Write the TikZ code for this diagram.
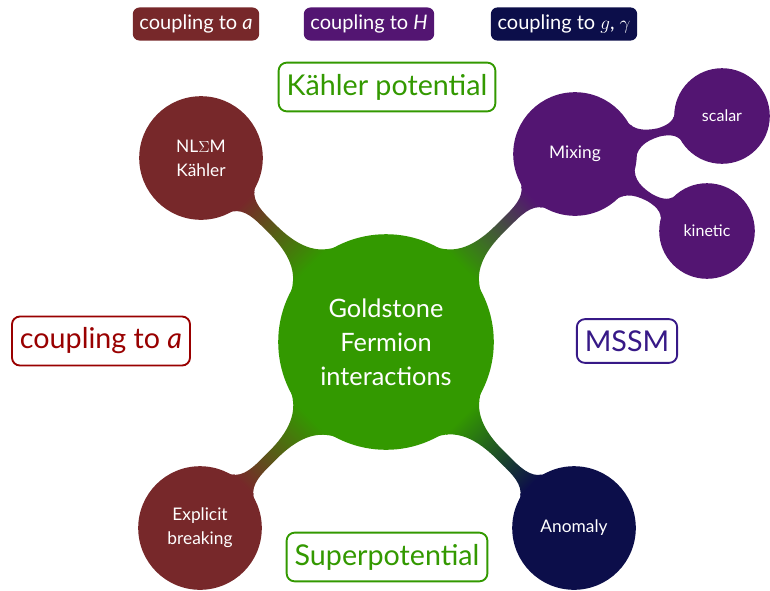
\documentclass[tikz,border=0pt]{standalone}
\usepackage{fontspec}
\setmainfont{Lato}
\usetikzlibrary{mindmap}
\definecolor{gC}{RGB}{51,153,0}
\definecolor{rC}{RGB}{119,40,42}
\definecolor{pC}{RGB}{83,21,114}
\definecolor{nC}{RGB}{12,14,74}
\definecolor{lblR}{RGB}{153,0,0}
\definecolor{lblP}{RGB}{55,25,135}
\begin{document}
\begin{tikzpicture}[x=0.75pt,y=0.75pt,
  legendbox/.style={rounded corners=5pt, inner xsep=5pt, inner ysep=5.5pt, text=white, font=\fontsize{15}{17}\selectfont},
  labelbox/.style={draw, line width=1.4pt, rounded corners=6pt, inner xsep=6pt, inner ysep=8.5pt, fill=white, font=\fontsize{21.5}{25}\selectfont},
  conceptbig/.style={concept, text=white, minimum size=91.5pt, text width=80pt, align=center, font=\fontsize{13}{18}\selectfont},
  conceptsmall/.style={concept, text=white, minimum size=70.5pt, text width=60pt, align=center, font=\fontsize{12}{16}\selectfont},
]
\useasboundingbox (0,0) rectangle (770,-590);
\begin{scope}[mindmap]
  \node[concept, concept color=gC, text=white, minimum size=160.5pt, text width=130pt, align=center,
        font=\fontsize{19}{25.5}\selectfont] (gf) at (386,-342) {Goldstone\\Fermion\\interactions};
  \node[conceptbig, concept color=rC] (nlsm) at (201,-158) {NL$\Sigma$M\\Kähler};
  \node[conceptbig, concept color=rC] (expl) at (200,-528) {Explicit\\breaking};
  \node[conceptbig, concept color=pC] (mix) at (575,-154) {Mixing};
  \node[conceptbig, concept color=nC] (anom) at (574,-528) {Anomaly};
  \node[conceptsmall, concept color=pC] (scal) at (722,-116) {scalar};
  \node[conceptsmall, concept color=pC] (kin) at (707,-231) {kinetic};
  \path (gf) to[circle connection bar switch color=from (gC) to (rC)] (nlsm);
  \path (gf) to[circle connection bar switch color=from (gC) to (rC)] (expl);
  \path (gf) to[circle connection bar switch color=from (gC) to (pC)] (mix);
  \path (gf) to[circle connection bar switch color=from (gC) to (nC)] (anom);
  \path (mix) to[circle connection bar switch color=from (pC) to (pC)] (scal);
  \path (mix) to[circle connection bar switch color=from (pC) to (pC)] (kin);
\end{scope}
\node[legendbox, fill=rC] (la) at (196,-24) {coupling to \textit{a}};
\node[legendbox, fill=pC] (lh) at (369,-24) {coupling to \textit{H}};
\node[legendbox, fill=nC] (lg) at (564,-24) {coupling to $g$, $\gamma$};
\node[labelbox, draw=gC, text=gC] (kp) at (387,-87) {Kähler potential};
\node[labelbox, draw=gC, text=gC] (sp) at (387,-557) {Superpotential};
\node[labelbox, draw=lblR, text=lblR] (ca) at (101,-341) {coupling to \textit{a}};
\node[labelbox, draw=lblP, text=lblP] (mssm) at (627,-341) {MSSM};
\end{tikzpicture}
\end{document}
